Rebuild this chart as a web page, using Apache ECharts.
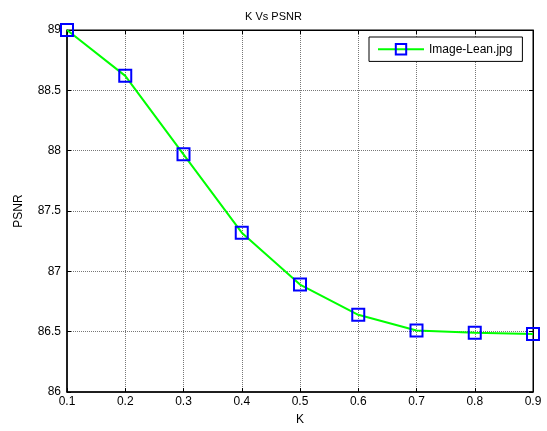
<!DOCTYPE html>
<html>
<head>
<meta charset="utf-8">
<script src="https://cdn.jsdelivr.net/npm/echarts@6/dist/echarts.min.js"></script>
<style>
html,body{margin:0;padding:0;background:#fff;}
#main{width:547px;height:431px;}
</style>
</head>
<body>
<div id="main"></div>
<script>
var kValues = [0.1, 0.2, 0.3, 0.4, 0.5, 0.6, 0.7, 0.8, 0.9];
var psnrValues = [89.0, 88.62, 87.97, 87.32, 86.89, 86.64, 86.51, 86.49, 86.48];
var seriesName = 'Image-Lean.jpg';

var myChart = echarts.init(document.getElementById('main'));
var font = 'Liberation Sans, Arial, sans-serif';
var points = kValues.map(function (k, i) { return [k, psnrValues[i]]; });

var gridLine = { show: true, lineStyle: { color: '#777', type: [1, 1], width: 1 } };
var tick = { show: true, inside: true, length: 4, lineStyle: { color: '#000' } };

option = {
    backgroundColor: '#fff',
    animation: false,
    title: {
        text: 'K Vs PSNR',
        left: 'center',
        top: 6,
        textStyle: { fontFamily: font, fontSize: 11, fontWeight: 'normal', color: '#000' }
    },
    legend: {
        left: 369,
        top: 37,
        padding: [6, 10, 6, 8],
        itemWidth: 46,
        itemHeight: 13,
        itemGap: 6,
        borderColor: '#000',
        borderWidth: 1,
        backgroundColor: '#fff',
        textStyle: { fontFamily: font, fontSize: 12, color: '#000' },
        data: [seriesName]
    },
    grid: {
        left: 67,
        right: 14,
        top: 30,
        bottom: 38,
        show: true,
        borderColor: '#000',
        borderWidth: 1
    },
    xAxis: [{
        type: 'value',
        min: 0.1,
        max: 0.9,
        interval: 0.1,
        name: 'K',
        nameLocation: 'middle',
        nameGap: 22,
        nameTextStyle: { fontFamily: font, fontSize: 12, color: '#000' },
        axisLine: { show: true, lineStyle: { color: '#000', width: 1.5 } },
        axisTick: tick,
        splitLine: gridLine,
        axisLabel: {
            fontFamily: font, fontSize: 12, color: '#000', margin: 4,
            formatter: function (v) { return (Math.round(v * 10) / 10).toString(); }
        }
    }, {
        type: 'value',
        position: 'top',
        min: 0.1,
        max: 0.9,
        interval: 0.1,
        axisLine: { show: true, lineStyle: { color: '#000' } },
        axisTick: tick,
        axisLabel: { show: false },
        splitLine: { show: false }
    }],
    yAxis: [{
        type: 'value',
        min: 86,
        max: 89,
        interval: 0.5,
        name: 'PSNR',
        nameLocation: 'middle',
        nameGap: 42,
        nameTextStyle: { fontFamily: font, fontSize: 12, color: '#000' },
        axisLine: { show: true, lineStyle: { color: '#000', width: 1.5 } },
        axisTick: tick,
        splitLine: gridLine,
        axisLabel: { fontFamily: font, fontSize: 12, color: '#000', margin: 6 }
    }, {
        type: 'value',
        position: 'right',
        min: 86,
        max: 89,
        interval: 0.5,
        axisLine: { show: true, lineStyle: { color: '#000' } },
        axisTick: tick,
        axisLabel: { show: false },
        splitLine: { show: false }
    }],
    series: [{
        name: seriesName,
        type: 'line',
        data: points,
        symbol: 'rect',
        symbolSize: 12,
        lineStyle: { color: '#00ff00', width: 2 },
        itemStyle: { color: 'rgba(0,0,0,0)', borderColor: '#0000ff', borderWidth: 2 },
        z: 5
    }]
};
myChart.setOption(option);
</script>
</body>
</html>
